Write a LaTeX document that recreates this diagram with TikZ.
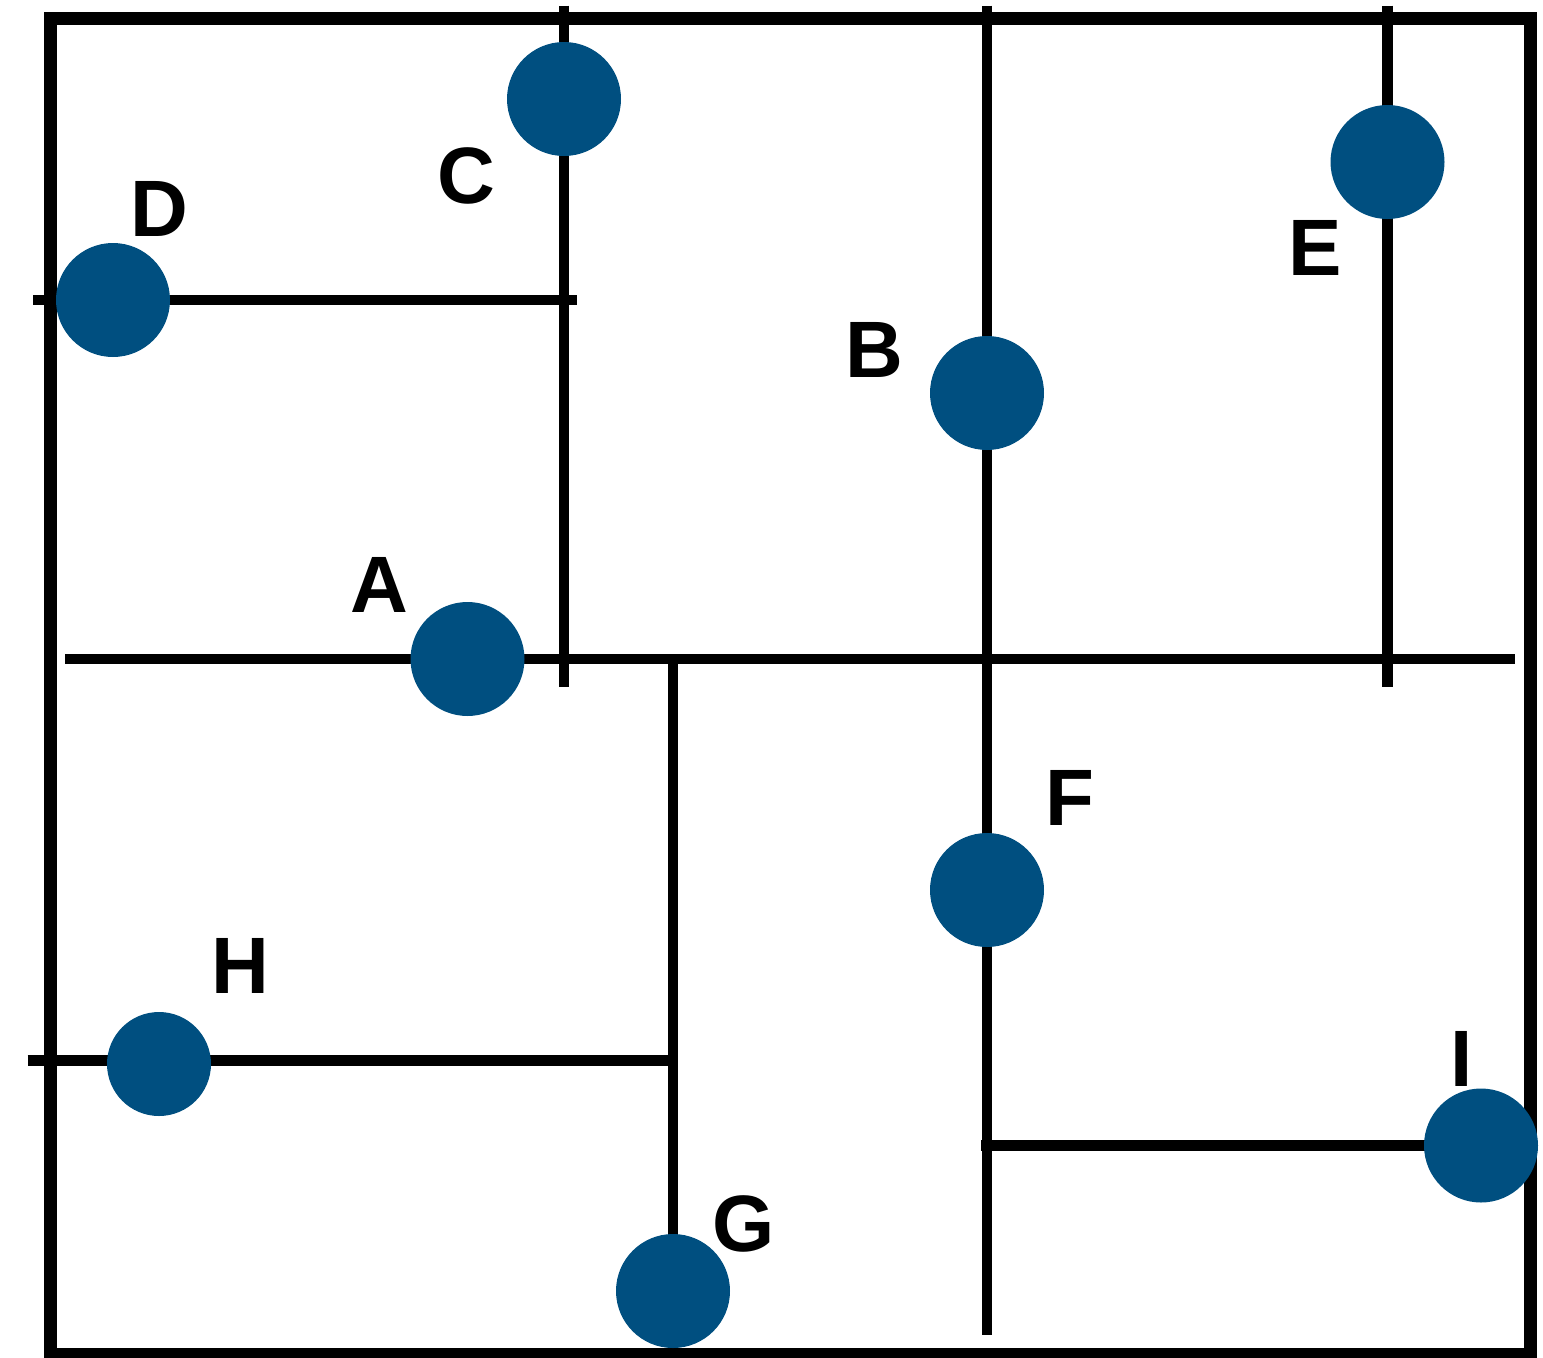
\documentclass[tikz,border=0pt]{standalone}
\usepackage{fontspec}
\setmainfont{Liberation Sans}
\usetikzlibrary{backgrounds}
\definecolor{dotblue}{RGB}{0,79,128}
\begin{document}
\begin{tikzpicture}[x=1pt,y=-1pt,
  dot/.style={circle,fill=dotblue,inner sep=0pt,minimum size=114pt},
  smalldot/.style={dot,minimum size=104pt},
  tag/.style={inner sep=0pt,font=\fontsize{80}{80}\selectfont\bfseries},
  wire/.style={line width=10.5pt,line cap=butt},
  frame/.style={line width=13pt}]
\useasboundingbox (0,0) rectangle (1543,1358);

% points on the grid
\node[dot] (C) at (564,99) {};
\node[dot] (D) at (113,300) {};
\node[dot] (E) at (1387.5,162) {};
\node[dot] (B) at (987,393) {};
\node[dot] (A) at (467.5,659) {};
\node[dot] (F) at (987,890) {};
\node[smalldot] (H) at (159,1064) {};
\node[dot] (G) at (673,1291) {};
\node[dot] (I) at (1481,1145.5) {};

% letters
\node[tag] (lC) at (466.5,176) {C};
\node[tag] (lD) at (159,208.5) {D};
\node[tag] (lE) at (1315,248) {E};
\node[tag] (lB) at (874,349.5) {B};
\node[tag] (lA) at (379.5,584.5) {A};
\node[tag] (lF) at (1070,798) {F};
\node[tag] (lH) at (240,966) {H};
\node[tag] (lG) at (744,1224) {G};
\node[tag] (lI) at (1462,1059) {I};

% free ends of the wires
\coordinate (ctop) at (564,5.7);
\coordinate (cbot) at (564,686.7);
\coordinate (btop) at (987,5.7);
\coordinate (bbot) at (987,686.7);
\coordinate (etop) at (1387.5,5.7);
\coordinate (ebot) at (1387.5,686.7);
\coordinate (aleft) at (65.4,659);
\coordinate (aright) at (1515,659);
\coordinate (dleft) at (33,300);
\coordinate (dright) at (577,300);
\coordinate (gtop) at (673,654);
\coordinate (ftop) at (987,659);
\coordinate (fbot) at (987,1335);
\coordinate (hleft) at (27.6,1060.5);
\coordinate (hright) at (668,1060.5);
\coordinate (ileft) at (981,1145.5);

\begin{scope}[on background layer]
  \draw[frame] (50.5,18.5) rectangle (1530,1354.5);
  \draw[wire] (ctop) -- (C.center) -- (cbot);
  \draw[wire] (btop) -- (B.center) -- (bbot);
  \draw[wire] (etop) -- (E.center) -- (ebot);
  \draw[wire] (aleft) -- (A.center) -- (aright);
  \draw[wire] (dleft) -- (D.center) -- (dright);
  \draw[wire] (gtop) -- (G.center);
  \draw[wire] (ftop) -- (F.center) -- (fbot);
  \draw[wire] (hleft) -- (H.center |- hleft) -- (hright);
  \draw[wire] (ileft) -- (I.center);
\end{scope}
\end{tikzpicture}
\end{document}
